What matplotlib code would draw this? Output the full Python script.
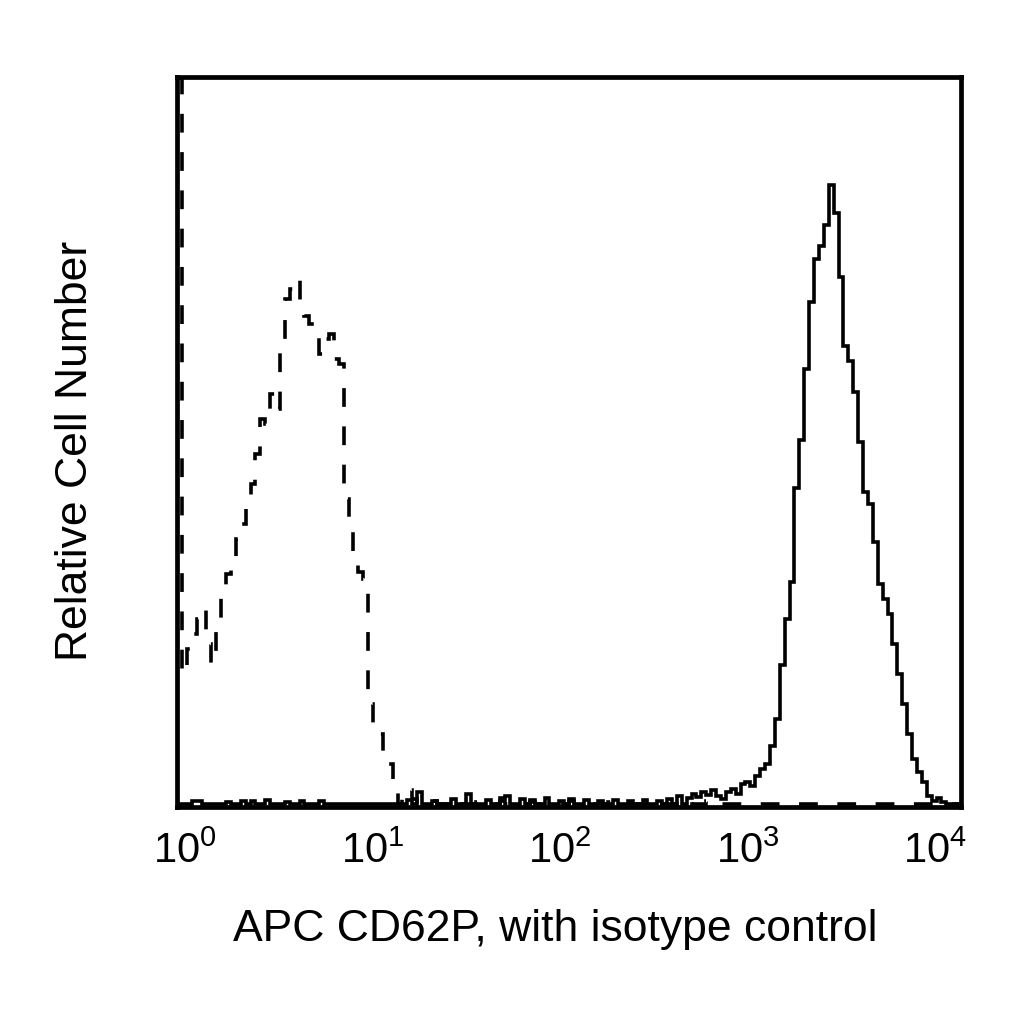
import matplotlib.pyplot as plt
import numpy as np

plt.rcParams['font.family'] = ['Liberation Sans', 'DejaVu Sans']
plt.rcParams['mathtext.fontset'] = 'custom'
plt.rcParams['mathtext.rm'] = 'Liberation Sans'
plt.rcParams['mathtext.default'] = 'regular'

# 160 log-spaced channels across the axis range
log_lo, log_hi = -0.043, 4.139
n_bins = 160

# isotype control (dashed), channels 0..49, rest is baseline noise
iso_main = [2000, 130, 155, 170, 185, 195, 160, 140, 185, 215,
            230, 240, 265, 280, 305, 320, 350, 385, 380, 410,
            395, 455, 505, 515, 525, 490, 488, 480, 475, 450,
            465, 470, 445, 440, 305, 282, 250, 232, 225, 100,
            80, 70, 50, 40, 12, 0, 6, 14, 5, 0]
iso_tail_nz = {52: 3, 56: 4, 61: 2, 66: 3, 72: 2, 80: 3, 88: 2, 97: 3, 104: 4, 108: 3}

# APC CD62P (solid), channels 110..159, below that baseline noise
cd62p_main = [8, 5, 12, 15, 10, 20, 22, 18, 28, 35,
              40, 58, 85, 139, 185, 222, 316, 364, 435, 502,
              545, 558, 579, 619, 591, 527, 458, 443, 412, 362,
              312, 300, 262, 220, 205, 190, 160, 130, 100, 70,
              45, 32, 22, 8, 3, 6, 2, 0, 0, 0]
cd62p_low_nz = {3: 3, 4: 3, 10: 2, 13: 3, 15: 3, 18: 4, 22: 2, 25: 3, 29: 3,
                47: 4, 49: 12, 52: 3, 56: 5, 59: 10, 63: 4, 66: 6, 67: 8,
                70: 5, 72: 4, 75: 6, 78: 3, 80: 5, 83: 4, 86: 3, 89: 4,
                92: 3, 95: 4, 98: 3, 100: 5, 102: 8, 104: 6, 105: 10,
                106: 7, 107: 12, 108: 9, 109: 14}

iso = np.zeros(n_bins)
iso[:len(iso_main)] = iso_main
for k, v in iso_tail_nz.items():
    iso[k] = v

cd62p = np.zeros(n_bins)
cd62p[110:110 + len(cd62p_main)] = cd62p_main
for k, v in cd62p_low_nz.items():
    cd62p[k] = v

edges = 10 ** np.linspace(log_lo, log_hi, n_bins + 1)

fig = plt.figure(figsize=(10.24, 10.24), dpi=100)
ax = fig.add_axes([177 / 1024, 1 - 807 / 1024, 784 / 1024, 730 / 1024])

ax.stairs(cd62p, edges, color='black', linewidth=2.6)
ax.stairs(iso, edges, color='black', linewidth=2.6, linestyle=(0, (5.2, 5.4)))

ax.set_xscale('log')
ax.set_xlim(10 ** log_lo, 10 ** log_hi)
ax.set_ylim(-3, 727)
ax.set_xticks([1, 10, 100, 1000, 10000])
ax.set_xticks([], minor=True)
ax.set_yticks([])
ax.tick_params(axis='x', length=0, pad=18, labelsize=30)

for s in ax.spines.values():
    s.set_linewidth(3.4)

ax.set_xlabel('APC CD62P, with isotype control', fontsize=32, labelpad=26)
ax.set_ylabel('Relative Cell Number', fontsize=32, labelpad=58)
ax.xaxis.label.set_x(0.5 - 14 / 784)
ax.yaxis.label.set_y(0.5 - 9 / 730)

plt.savefig('out.png', dpi=100)
